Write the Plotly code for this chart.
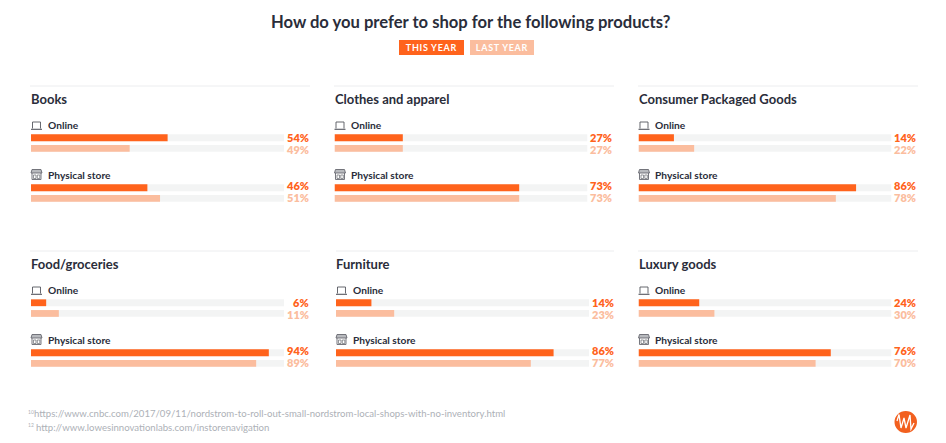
import plotly.graph_objects as go

W, H = 946, 443
categories = ["Books", "Clothes and apparel", "Consumer Packaged Goods", "Food/groceries", "Furniture", "Luxury goods"]
channels = ["Online", "Physical store"]
online_this = [54, 27, 14, 6, 14, 24]
online_last = [39, 27, 22, 11, 23, 30]   # bar as drawn (Books bar is shorter than its label)
store_this = [46, 73, 86, 94, 86, 76]
store_last = [51, 73, 78, 89, 77, 70]
online_this_labels = ["54%", "27%", "14%", "6%", "14%", "24%"]
online_last_labels = ["49%", "27%", "22%", "11%", "23%", "30%"]
store_this_labels = ["46%", "73%", "86%", "94%", "86%", "76%"]
store_last_labels = ["51%", "73%", "78%", "89%", "77%", "70%"]
track_full = [100, 100]
series_names = ["THIS YEAR", "LAST YEAR"]
title = "How do you prefer to shop for the following products?"
footnotes = ["https://www.cnbc.com/2017/09/11/nordstrom-to-roll-out-small-nordstrom-local-shops-with-no-inventory.html",
             "http://www.lowesinnovationlabs.com/instorenavigation"]
footnote_marks = ["10", "12"]

ORANGE = "#FF631C"
LIGHT = "#FBBD9E"
TRACK = "#F3F4F4"
RULE = "#ECEDEF"
INK = "#2A2D3A"
GREY = "#ADB1B7"
FONT = "Lato"

panel_x = [31, 334.5, 638.5, 31, 336, 638.5]
panel_top = [86, 86, 86, 251, 251, 251]
rule_x = [(30, 310), (334, 614), (638, 918), (30, 310), (336, 614), (638, 918)]
TRACK_W = 253
GROUP_H = 50


def px(x):
    return x / W


def py(y):
    return 1 - y / H


fig = go.Figure()
annotations = []
shapes = []


def text(x, y, s, size, color=INK, anchor="left", weight=400, family=FONT):
    annotations.append(dict(x=px(x), y=py(y), xref="paper", yref="paper", text=s, showarrow=False,
                            xanchor=anchor, yanchor="middle", borderpad=0, borderwidth=0,
                            font=dict(family=family, size=size, color=color, weight=weight)))


def path(points, color, width=1.0, fill=None, close=False):
    d = "M " + " L ".join(f"{px(a):.5f},{py(b):.5f}" for a, b in points) + (" Z" if close else "")
    shapes.append(dict(type="path", path=d, xref="paper", yref="paper",
                       line=dict(color=color, width=width), fillcolor=fill))


def laptop(x, y):
    path([(x + 1.5, y + 6.5), (x + 1.5, y), (x + 9.5, y), (x + 9.5, y + 6.5)], "#55575F", 0.9)
    path([(x, y + 7.3), (x + 11, y + 7.3)], "#55575F", 1.1)


def store(x, y):
    path([(x + 1, y), (x + 10, y), (x + 11, y + 3.5), (x, y + 3.5)], "#66686F", 0.9, "#B8BABE", True)
    path([(x + 1, y + 3.5), (x + 1, y + 10), (x + 10, y + 10), (x + 10, y + 3.5)], "#66686F", 0.9)
    path([(x + 2.5, y + 5.5), (x + 5, y + 5.5), (x + 5, y + 9), (x + 2.5, y + 9)], "#66686F", 0.7, None, True)
    path([(x + 6.3, y + 5.5), (x + 8.8, y + 5.5), (x + 8.8, y + 9), (x + 6.3, y + 9)], "#66686F", 0.7, None, True)


for i, cat in enumerate(categories):
    n = "" if i == 0 else str(i + 1)
    x0, top = panel_x[i], panel_top[i]
    ytop = top + 32.1
    fig.update_layout({
        f"xaxis{n}": dict(domain=[px(x0), px(x0 + TRACK_W)], range=[0, 100], visible=False, fixedrange=True),
        f"yaxis{n}": dict(domain=[py(ytop + 2 * GROUP_H), py(ytop)], range=[1.5, -0.5], type="linear",
                          visible=False, fixedrange=True),
    })
    xa, ya = f"x{n}", f"y{n}"
    this_vals = [online_this[i], store_this[i]]
    last_vals = [online_last[i], store_last[i]]
    for group, name, vals, color in (("a", series_names[0], this_vals, ORANGE),
                                     ("b", series_names[1], last_vals, LIGHT)):
        fig.add_trace(go.Bar(y=[0, 1], x=track_full, orientation="h", xaxis=xa, yaxis=ya, offsetgroup=group,
                             marker=dict(color=TRACK, line_width=0), showlegend=False, hoverinfo="skip"))
        fig.add_trace(go.Bar(y=[0, 1], x=vals, orientation="h", xaxis=xa, yaxis=ya, offsetgroup=group, name=name,
                             marker=dict(color=color, line_width=0), showlegend=False))

    r0, r1 = rule_x[i]
    shapes.append(dict(type="line", xref="paper", yref="paper", x0=px(r0), x1=px(r1), y0=py(top), y1=py(top),
                       line=dict(color=RULE, width=1)))
    text(x0, top + 13, cat, 13, weight=700)
    laptop(x0, top + 36)
    text(x0 + 16.5, top + 39, channels[0], 10.2, weight=700)
    store(x0, top + 83.5)
    text(x0 + 16.5, top + 89, channels[1], 10.2, weight=700)
    xr = x0 + TRACK_W + 24.5
    text(xr, top + 51, online_this_labels[i], 11, ORANGE, "right", 800)
    text(xr, top + 63.5, online_last_labels[i], 11, LIGHT, "right", 800)
    text(xr, top + 99.5, store_this_labels[i], 11, ORANGE, "right", 800)
    text(xr, top + 111.5, store_last_labels[i], 11, LIGHT, "right", 800)

# title and legend chips
text(470, 22, title, 16.6, anchor="center", weight=700)
for (a, b), name, color in zip(((399, 464), (470, 534)), series_names, (ORANGE, LIGHT)):
    shapes.append(dict(type="rect", xref="paper", yref="paper", x0=px(a), x1=px(b), y0=py(40), y1=py(55),
                       fillcolor=color, line_width=0))
    text((a + b) / 2, 47.8, name, 9, "#FFFFFF", "center", 700)

# footnotes
for fy, fx, mark, note in zip((413.5, 427), (34, 35.5), footnote_marks, footnotes):
    text(28, fy - 2, mark, 5, GREY)
    text(fx, fy, note, 9.6, GREY)

# logo
shapes.append(dict(type="circle", xref="paper", yref="paper", x0=px(894.5), x1=px(917), y0=py(411), y1=py(433),
                   fillcolor="#F2601F", line_width=0))
path([(897, 421), (899, 414.5), (901, 428), (904, 418), (906, 428), (910, 415), (911, 429), (914, 423)], "#FFFFFF", 1.3)

fig.update_layout(
    width=W, height=H, autosize=False,
    margin=dict(l=0, r=0, t=0, b=0),
    paper_bgcolor="#FFFFFF", plot_bgcolor="#FFFFFF",
    barmode="group", bargap=0.572, bargroupgap=0.364,
    showlegend=False, annotations=annotations, shapes=shapes,
)
fig.write_html("out.html", config={"displayModeBar": False},
               post_script="document.body.style.margin='0';document.body.style.overflow='hidden';"
                           "document.querySelectorAll('.annotation-text').forEach(function(t){"
                           "if(/^(THIS|LAST) YEAR$/.test(t.textContent)){t.style.letterSpacing='0.7px';}});")
